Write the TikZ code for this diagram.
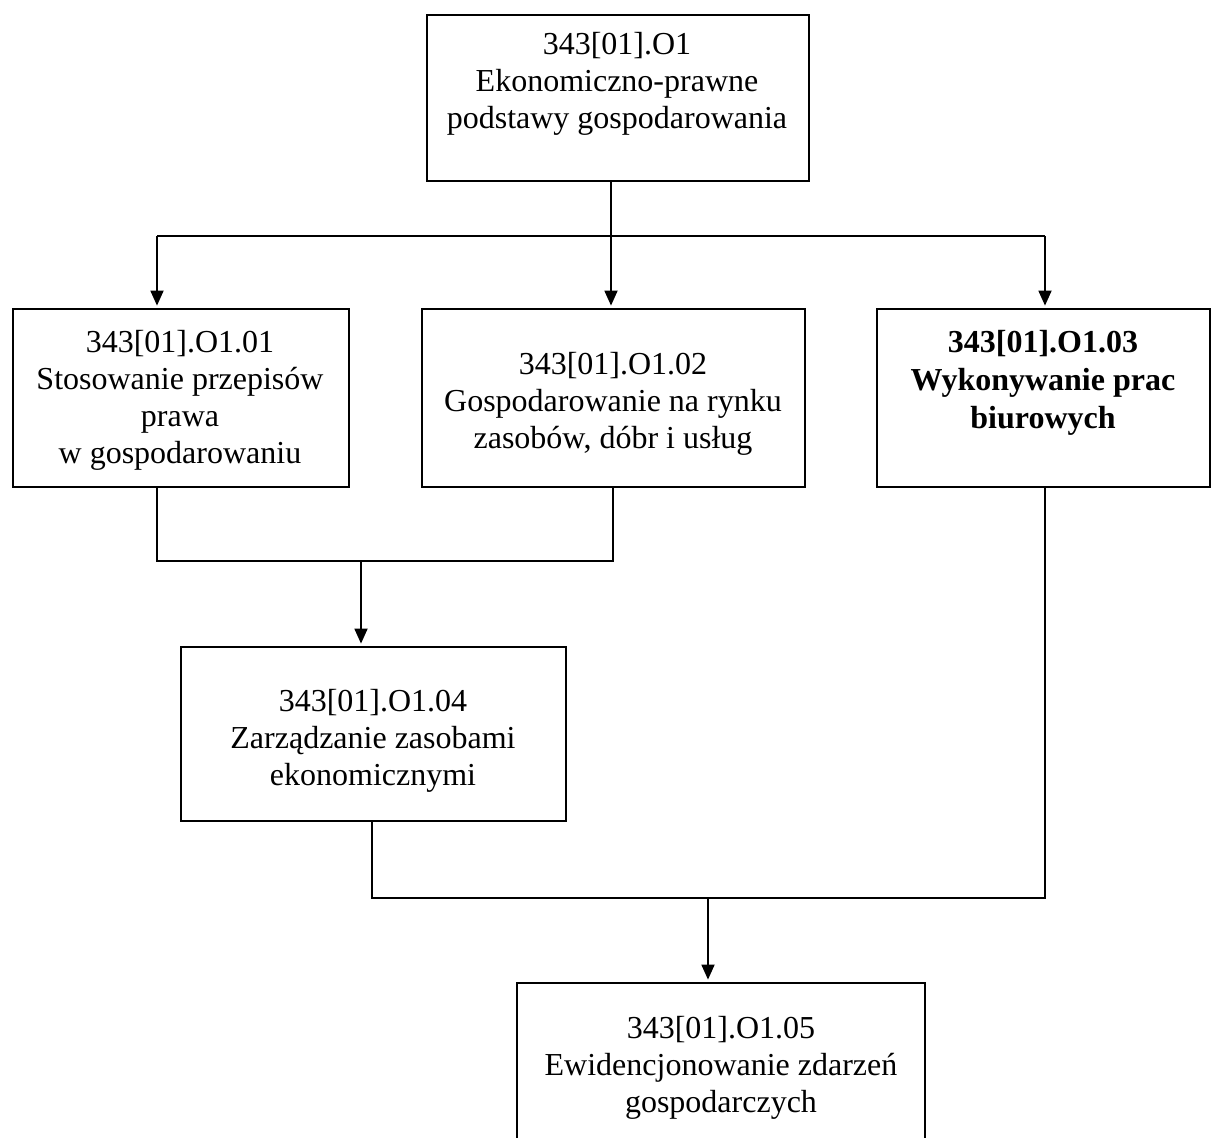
\documentclass[tikz,border=0pt]{standalone}
\usepackage{fontspec}
\setmainfont{Liberation Serif}
\usetikzlibrary{arrows.meta}
\begin{document}
\begin{tikzpicture}[x=1pt,y=-1pt,
  box/.style={draw, line width=2.8pt, rectangle, inner sep=0pt},
  txt/.style={font=\fontsize{32}{37}\selectfont, align=center, anchor=base, inner sep=0pt},
  conn/.style={line width=1.8pt},
  arr/.style={conn, -{Triangle[width=13pt,length=15pt]}, shorten >=2pt}]
\useasboundingbox (0,0) rectangle (1211,1138);
\clip (0,0) rectangle (1211,1138);

% boxes
\node[box, minimum width=382pt, minimum height=166pt] (o1) at (618,98) {};
\node[box, minimum width=336pt, minimum height=178pt] (b1) at (181,398) {};
\node[box, minimum width=383pt, minimum height=178pt] (b2) at (613.5,398) {};
\node[box, minimum width=333pt, minimum height=178pt] (b3) at (1043.5,398) {};
\node[box, minimum width=385pt, minimum height=174pt] (b4) at (373.5,734) {};
\node[box, minimum width=408pt, minimum height=177pt] (b5) at (721,1071.5) {};

% texts (anchored at the baseline of the last line)
\node[txt] (t0) at (617,128) {343[01].O1\\Ekonomiczno-prawne\\podstawy gospodarowania};
\node[txt] (t1) at (180,463) {343[01].O1.01\\Stosowanie przepisów\\prawa\\w gospodarowaniu};
\node[txt] (t2) at (613,448) {343[01].O1.02\\Gospodarowanie na rynku\\zasobów, dóbr i usług};
\node[txt, font=\fontsize{32}{38}\selectfont\bfseries] (t3) at (1043,428) {343[01].O1.03\\Wykonywanie prac\\biurowych};
\node[txt] (t4) at (373,785) {343[01].O1.04\\Zarządzanie zasobami\\ekonomicznymi};
\node[txt] (t5) at (721,1112) {343[01].O1.05\\Ewidencjonowanie zdarzeń\\gospodarczych};

% connectors: top level
\coordinate (j1) at (611,236);
\coordinate (jl) at (157,236);
\coordinate (jr) at (1045,236);
\draw[conn] (o1.south -| j1) -- (j1);
\draw[conn] (jl) -- (jr);
\draw[arr] (j1) -- (j1 |- b2.north);
\draw[arr] (jl) -- (jl |- b1.north);
\draw[arr] (jr) -- (jr |- b3.north);

% b1 + b2 -> b4
\coordinate (m1) at (157,561);
\coordinate (m2) at (613,561);
\coordinate (m3) at (361,561);
\draw[conn] (b1.south -| m1) -- (m1) -- (m2) -- (b2.south -| m2);
\draw[arr] (m3) -- (m3 |- b4.north);

% b4 + b3 -> b5
\coordinate (n1) at (372,898);
\coordinate (n2) at (1045,898);
\coordinate (n3) at (708,898);
\draw[conn] (b4.south -| n1) -- (n1) -- (n2) -- (b3.south -| n2);
\draw[arr] (n3) -- (n3 |- b5.north);
\end{tikzpicture}
\end{document}
